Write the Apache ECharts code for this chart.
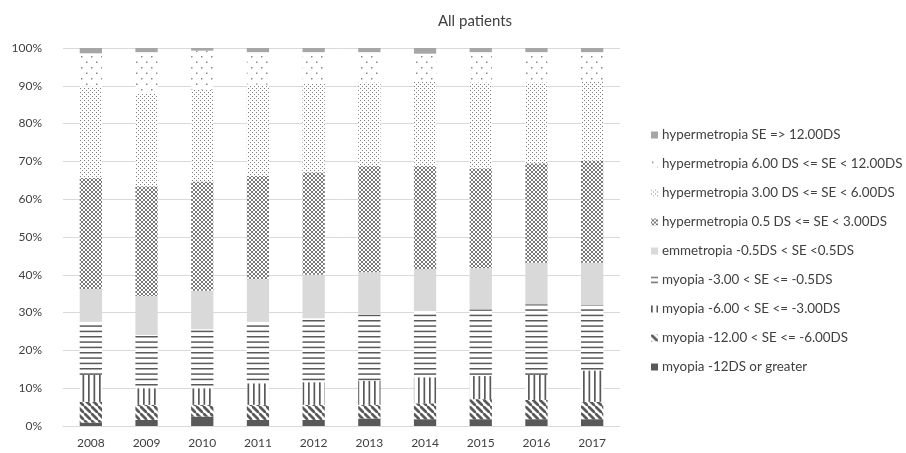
<!DOCTYPE html>
<html>
<head>
<meta charset="utf-8">
<script src="https://cdn.jsdelivr.net/npm/echarts@6/dist/echarts.min.js"></script>
<style>
html,body{margin:0;padding:0;background:#fff;}
#chart{width:906px;height:453px;}
</style>
</head>
<body>
<div id="chart"></div>
<script>
// ---- Data (percent of patients) ----
const years = ['2008','2009','2010','2011','2012','2013','2014','2015','2016','2017'];
const seriesNames = [
  'myopia -12DS or greater',
  'myopia -12.00 < SE <= -6.00DS',
  'myopia -6.00 < SE <= -3.00DS',
  'myopia -3.00 < SE <= -0.5DS',
  'emmetropia -0.5DS < SE <0.5DS',
  'hypermetropia 0.5 DS <= SE < 3.00DS',
  'hypermetropia 3.00 DS <= SE < 6.00DS',
  'hypermetropia 6.00 DS <= SE < 12.00DS',
  'hypermetropia SE => 12.00DS'
];
const myopiaHigh   = [0.9, 1.6, 2.5, 1.6, 1.6, 2.0, 1.8, 1.8, 1.8, 1.8];
const myopia12to6  = [5.5, 4.0, 3.1, 4.0, 4.0, 3.6, 4.2, 5.3, 5.1, 4.6];
const myopia6to3   = [7.1, 4.4, 4.4, 5.7, 6.0, 6.4, 6.9, 6.1, 6.6, 8.3];
const myopia3to05  = [14.1, 14.1, 15.6, 16.3, 16.9, 17.4, 17.6, 17.7, 18.7, 17.3];
const emmetropia   = [8.6, 10.3, 10.2, 11.2, 11.5, 11.3, 11.0, 10.8, 11.0, 11.2];
const hyper05to3   = [29.4, 29.0, 28.9, 27.4, 27.1, 28.1, 27.3, 26.5, 26.3, 27.0];
const hyper3to6    = [24.2, 24.7, 24.3, 24.1, 23.6, 22.1, 22.4, 22.7, 21.4, 21.0];
const hyper6to12   = [8.8, 10.8, 10.3, 8.6, 8.2, 8.0, 7.3, 8.0, 8.0, 7.7];
const hyperHigh    = [1.4, 1.1, 0.7, 1.1, 1.1, 1.1, 1.5, 1.1, 1.1, 1.1];
const seriesValues = [myopiaHigh, myopia12to6, myopia6to3, myopia3to05, emmetropia,
                      hyper05to3, hyper3to6, hyper6to12, hyperHigh];
const yTicks = [0,10,20,30,40,50,60,70,80,90,100];

// ---- Fill patterns ----
function pattern(w, h, draw) {
  const c = document.createElement('canvas');
  c.width = w; c.height = h;
  const ctx = c.getContext('2d');
  ctx.fillStyle = '#ffffff';
  ctx.fillRect(0, 0, w, h);
  draw(ctx, w, h);
  return { image: c, repeat: 'repeat' };
}
const fills = [
  '#595959',
  pattern(7, 7, (ctx) => {               // diagonal stripes "\"
    ctx.strokeStyle = '#595959'; ctx.lineWidth = 2.8;
    ctx.beginPath();
    ctx.moveTo(-1, -1); ctx.lineTo(8, 8);
    ctx.moveTo(-8, 0); ctx.lineTo(0, 8);
    ctx.moveTo(0, -8); ctx.lineTo(8, 0);
    ctx.stroke();
  }),
  pattern(11, 6, (ctx) => {              // vertical lines
    ctx.fillStyle = '#595959';
    ctx.fillRect(0, 0, 1.7, 6); ctx.fillRect(5.5, 0, 1.7, 6);
  }),
  pattern(6, 16, (ctx) => {              // horizontal lines
    ctx.fillStyle = '#595959';
    ctx.fillRect(0, 0, 6, 1.5); ctx.fillRect(0, 5.33, 6, 1.5); ctx.fillRect(0, 10.67, 6, 1.5);
  }),
  '#d9d9d9',
  pattern(4, 4, (ctx) => {               // dense crosshatch
    ctx.fillStyle = '#7a7a7a';
    [[0,0],[1,1],[2,2],[3,3],[3,0],[2,1],[1,2],[0,3]].forEach(p => ctx.fillRect(p[0], p[1], 1, 1));
  }),
  pattern(4, 4, (ctx) => {               // dense dots
    ctx.fillStyle = '#808080';
    ctx.fillRect(0, 0, 1, 1); ctx.fillRect(2, 2, 1, 1);
  }),
  pattern(10, 11, (ctx) => {             // sparse dots
    ctx.fillStyle = '#8a8a8a';
    ctx.fillRect(1, 1, 1.5, 1.5); ctx.fillRect(6, 6.5, 1.5, 1.5);
  }),
  '#a6a6a6'
];

const series = seriesNames.map((name, i) => ({
  name: name,
  type: 'bar',
  stack: 'total',
  barWidth: '40%',
  itemStyle: { color: fills[i] },
  emphasis: { disabled: true },
  data: seriesValues[i]
}));

const chart = echarts.init(document.getElementById('chart'), null, { renderer: 'canvas' });
chart.setOption({
  animation: false,
  backgroundColor: '#ffffff',
  title: {
    text: 'All patients',
    left: 470, top: 9, textAlign: 'center',
    textStyle: { fontFamily: 'Lato', fontSize: 15, fontWeight: 'normal', color: '#404040' }
  },
  legend: {
    orient: 'vertical',
    left: 646, top: 122,
    itemWidth: 7, itemHeight: 7,
    itemGap: 13,
    icon: 'rect',
    data: seriesNames.slice().reverse(),
    textStyle: { fontFamily: 'Lato', fontSize: 13.4, color: '#404040', lineHeight: 16, padding: [0, 0, 0, -1] }
  },
  grid: { left: 63, right: 286, top: 48, bottom: 27, containLabel: false },
  xAxis: {
    type: 'category',
    data: years,
    axisLine: { lineStyle: { color: '#d9d9d9', width: 1 } },
    axisTick: { show: false },
    axisLabel: { fontFamily: 'Lato', fontSize: 12, color: '#404040', margin: 11 }
  },
  yAxis: {
    type: 'value',
    min: yTicks[0], max: yTicks[yTicks.length - 1], interval: 10,
    axisLine: { show: false },
    axisTick: { show: false },
    splitLine: { lineStyle: { color: '#d9d9d9', width: 1 } },
    axisLabel: { formatter: '{value}%', fontFamily: 'Lato', fontSize: 12, color: '#404040', margin: 21 }
  },
  series: series
});
</script>
</body>
</html>
